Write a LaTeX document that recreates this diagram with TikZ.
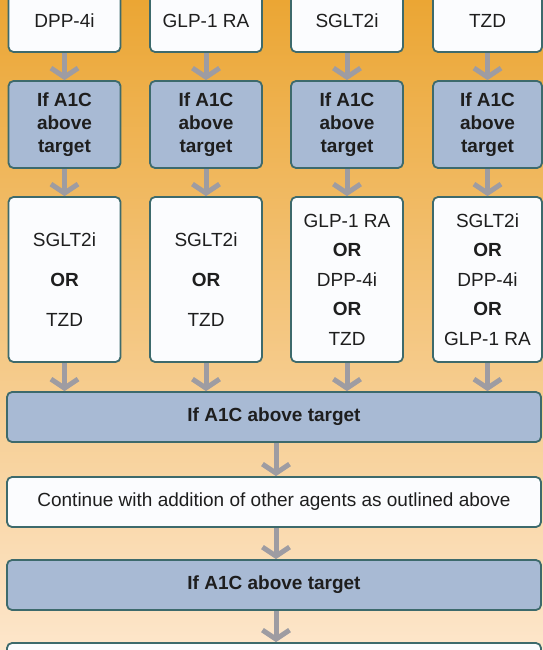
\documentclass[tikz,border=0pt]{standalone}
\usepackage{fontspec}
\setmainfont{Liberation Sans}
\usetikzlibrary{arrows.meta}
\definecolor{bgtop}{HTML}{EBA634}
\definecolor{bgmid}{HTML}{F4C77C}
\definecolor{bgbot}{HTML}{FDE6CB}
\definecolor{bordc}{HTML}{3D6A6C}
\definecolor{bluef}{HTML}{A8BAD4}
\definecolor{arrc}{HTML}{9E9CA2}
\definecolor{txt}{HTML}{1E1E1E}
\definecolor{whitef}{HTML}{FBFCFE}
\begin{document}
\begin{tikzpicture}[x=1pt,y=-1pt,
  box/.style={draw=bordc, line width=1.8pt, rounded corners=5pt, fill=whitef,
    align=center, inner sep=0pt, text=txt, font=\fontsize{19}{23}\selectfont},
  bluebox/.style={box, fill=bluef, font=\bfseries\fontsize{19}{23}\selectfont},
  arr/.style={draw=arrc, line width=5pt, -{Straight Barb[length=9pt,width=27pt]}}]
\useasboundingbox (0,0) rectangle (543,650);
\clip (0,0) rectangle (543,650);
\shade[top color=bgtop, middle color=bgmid, bottom color=bgbot] (0,0) rectangle (543,650);

% row 1
\node[box, minimum width=112, minimum height=62] (t1) at (64.5,21) {DPP-4i};
\node[box, minimum width=112, minimum height=62] (t2) at (206,21) {GLP-1 RA};
\node[box, minimum width=112, minimum height=62] (t3) at (347,21) {SGLT2i};
\node[box, minimum width=109, minimum height=62] (t4) at (487.5,21) {TZD};
% row 2
\node[bluebox, minimum width=112, minimum height=87] (q1) at (64.5,124.5) {If A1C\\above\\target};
\node[bluebox, minimum width=112, minimum height=87] (q2) at (206,124.5) {If A1C\\above\\target};
\node[bluebox, minimum width=112, minimum height=87] (q3) at (347,124.5) {If A1C\\above\\target};
\node[bluebox, minimum width=109, minimum height=87] (q4) at (487.5,124.5) {If A1C\\above\\target};
% row 3
\node[box, minimum width=112, minimum height=165, font=\fontsize{19}{40}\selectfont] (m1) at (64.5,279.5) {SGLT2i\\\textbf{OR}\\TZD};
\node[box, minimum width=112, minimum height=165, font=\fontsize{19}{40}\selectfont] (m2) at (206,279.5) {SGLT2i\\\textbf{OR}\\TZD};
\node[box, minimum width=112, minimum height=165, font=\fontsize{19}{29.5}\selectfont] (m3) at (347,279.5) {GLP-1 RA\\\textbf{OR}\\DPP-4i\\\textbf{OR}\\TZD};
\node[box, minimum width=109, minimum height=165, font=\fontsize{19}{29.5}\selectfont] (m4) at (487.5,279.5) {SGLT2i\\\textbf{OR}\\DPP-4i\\\textbf{OR}\\GLP-1 RA};
% wide rows
\node[bluebox, minimum width=534, minimum height=50] (w1) at (274,417) {If A1C above target};
\node[box, minimum width=534, minimum height=50] (c) at (274,502) {Continue with addition of other agents as outlined above};
\node[bluebox, minimum width=534, minimum height=50] (w2) at (274,585) {If A1C above target};
\node[box, minimum width=534, minimum height=50] (b) at (274,668) {};

% arrows
\foreach \i in {1,2,3,4}{
  \draw[arr] (t\i.south) -- (q\i.north);
  \draw[arr] (q\i.south) -- (m\i.north);
  \draw[arr] (m\i.south) -- (m\i.south |- w1.north);
}
\draw[arr] ([xshift=2pt]w1.south) -- ([xshift=2pt]c.north);
\draw[arr] ([xshift=2pt]c.south) -- ([xshift=2pt]w2.north);
\draw[arr] ([xshift=2pt]w2.south) -- ([xshift=2pt]b.north);
\end{tikzpicture}
\end{document}
